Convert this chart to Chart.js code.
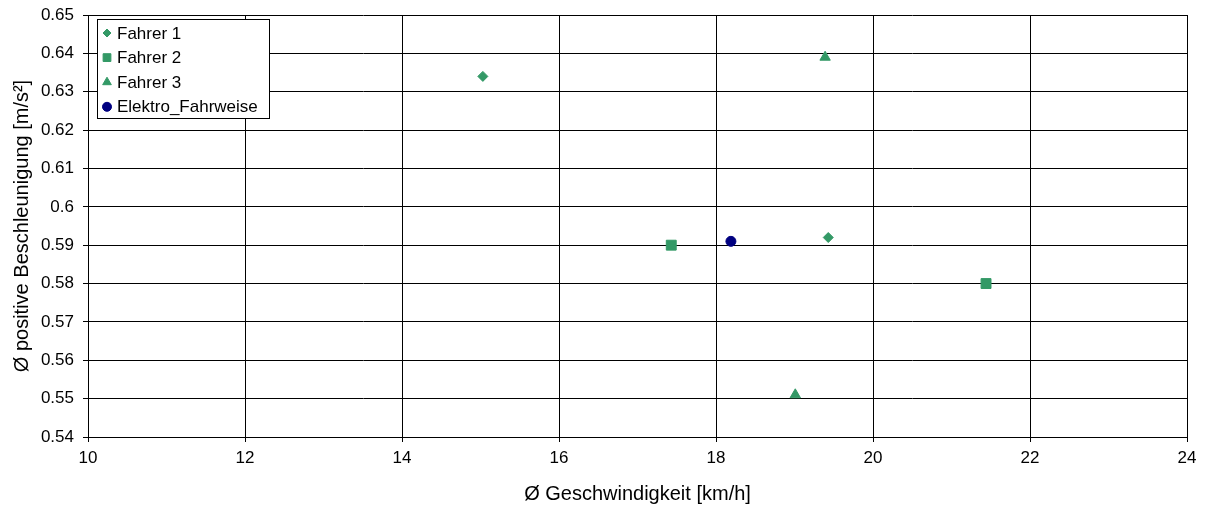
<!DOCTYPE html>
<html><head><meta charset="utf-8">
<script src="https://cdn.jsdelivr.net/npm/chart.js@4/dist/chart.umd.min.js"></script>
<style>html,body{margin:0;padding:0;background:#fff}#wrap{width:1206px;height:508px}</style>
</head><body><div id="wrap"><canvas id="c" width="1206" height="508"></canvas></div>
<script>
const seriesNames = ['Fahrer 1', 'Fahrer 2', 'Fahrer 3', 'Elektro_Fahrweise'];
const fahrer1X = [15.03, 19.43];
const fahrer1Y = [0.634, 0.592];
const fahrer2X = [17.43, 21.44];
const fahrer2Y = [0.590, 0.580];
const fahrer3X = [19.39, 19.01];
const fahrer3Y = [0.639, 0.551];
const elektroX = [18.19];
const elektroY = [0.591];
const xTitle = 'Ø Geschwindigkeit [km/h]';
const yTitle = 'Ø positive Beschleunigung [m/s²]';

const GREEN = '#339966', NAVY = '#000080';
const FONT = '"Liberation Sans", Arial, sans-serif';
const pts = (xs, ys) => xs.map((x, i) => ({x, y: ys[i]}));
const styles = [
  {c: GREEN, s: 'rectRot', r: 5, lr: 4},
  {c: GREEN, s: 'rect', r: 7, lr: 5.5},
  {c: GREEN, s: 'triangle', r: 6, lr: 5},
  {c: NAVY, s: 'circle', r: 5, lr: 4.5}
];
const data = [pts(fahrer1X, fahrer1Y), pts(fahrer2X, fahrer2Y), pts(fahrer3X, fahrer3Y), pts(elektroX, elektroY)];

const legendPlugin = {
  id: 'boxLegend',
  afterDraw(chart) {
    const ctx = chart.ctx;
    const x0 = 97.5, y0 = 19.5, w = 172, h = 99;
    ctx.save();
    ctx.fillStyle = '#fff';
    ctx.fillRect(x0, y0, w, h);
    ctx.strokeStyle = '#000';
    ctx.lineWidth = 1;
    ctx.strokeRect(x0, y0, w, h);
    ctx.font = '17px ' + FONT;
    ctx.textBaseline = 'middle';
    chart.data.datasets.forEach((ds, i) => {
      const cy = 33 + i * 24.6;
      const st = styles[i];
      ctx.fillStyle = st.c; ctx.strokeStyle = st.c;
      Chart.helpers.drawPoint(ctx, {pointStyle: st.s, radius: st.lr, borderWidth: 1, rotation: 0}, 107, cy);
      ctx.fillStyle = '#000';
      ctx.fillText(ds.label, 117, cy + 1);
    });
    ctx.restore();
  }
};

new Chart(document.getElementById('c'), {
  type: 'scatter',
  data: {
    datasets: data.map((d, i) => ({
      label: seriesNames[i],
      data: d,
      pointStyle: styles[i].s,
      pointRadius: styles[i].r,
      pointHoverRadius: styles[i].r,
      backgroundColor: styles[i].c,
      borderColor: styles[i].c,
      borderWidth: 1
    }))
  },
  options: {
    responsive: false,
    animation: false,
    layout: {padding: {top: 15, right: 19, left: 0, bottom: 0}},
    plugins: {legend: {display: false}, tooltip: {enabled: false}},
    scales: {
      x: {
        type: 'linear', min: 10, max: 24,
        ticks: {stepSize: 2, color: '#000', font: {family: FONT, size: 17}, padding: 6},
        grid: {color: '#000', lineWidth: 1, tickLength: 5, tickColor: '#000'},
        border: {color: '#000', width: 1},
        title: {display: true, text: xTitle, color: '#000', font: {family: FONT, size: 20}, padding: {top: 0, bottom: 2}},
        afterFit(s) { s.height = 71; s.paddingLeft = 0; s.paddingRight = 0; }
      },
      y: {
        type: 'linear', min: 0.54, max: 0.65,
        ticks: {stepSize: 0.01, color: '#000', font: {family: FONT, size: 17}, padding: 9,
          callback: v => String(Math.round(v * 100) / 100)},
        grid: {color: '#000', lineWidth: 1, tickLength: 5, tickColor: '#000'},
        border: {color: '#000', width: 1},
        title: {display: true, text: yTitle, color: '#000', font: {family: FONT, size: 20}, padding: {top: 10, bottom: 0}},
        afterFit(s) { s.width = 88; s.paddingTop = 0; s.paddingBottom = 0; }
      }
    }
  },
  plugins: [legendPlugin]
});
</script></body></html>
